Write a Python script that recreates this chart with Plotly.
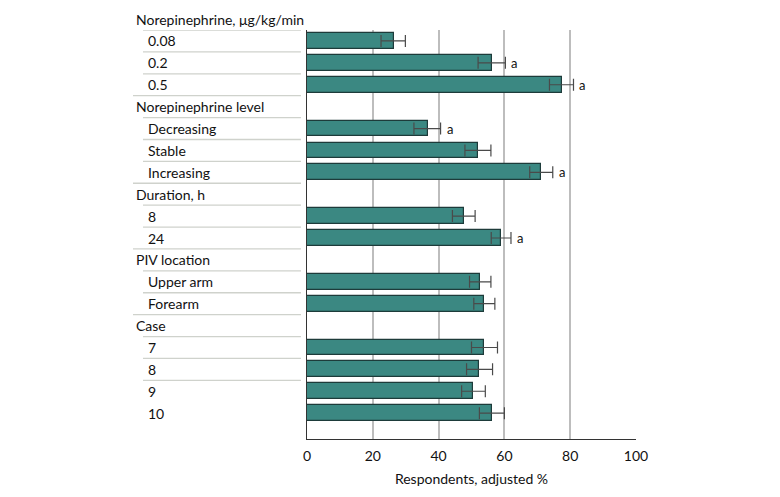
import plotly.graph_objects as go

# Rows (headers have no value)
row_labels = ["Norepinephrine, μg/kg/min", "0.08", "0.2", "0.5",
              "Norepinephrine level", "Decreasing", "Stable", "Increasing",
              "Duration, h", "8", "24",
              "PIV location", "Upper arm", "Forearm",
              "Case", "7", "8", "9", "10"]
is_header = [True, False, False, False,
             True, False, False, False,
             True, False, False,
             True, False, False,
             True, False, False, False, False]
values = [None, 26.3, 56.1, 77.4,
          None, 36.7, 52.0, 71.2,
          None, 47.7, 58.9,
          None, 52.7, 53.9,
          None, 53.9, 52.4, 50.6, 56.2]
ci_low = [None, 22.5, 52.0, 73.7,
          None, 32.5, 48.0, 67.7,
          None, 44.2, 56.0,
          None, 49.4, 50.7,
          None, 50.0, 48.5, 47.0, 52.4]
ci_high = [None, 29.9, 60.3, 81.0,
           None, 40.6, 55.9, 74.7,
           None, 51.1, 62.0,
           None, 55.9, 57.1,
           None, 57.9, 56.4, 54.2, 60.0]
significant = [False, False, True, True,
               False, True, False, True,
               False, False, True,
               False, False, False,
               False, False, False, False, False]
x_ticks = [0, 20, 40, 60, 80, 100]

W, H = 780, 497
ML, MR, MT, MB = 307, 144, 30, 56
PW = W - ML - MR
PH = H - MT - MB
Y_TOP, Y_BOT = 0.5, 19.18

def px_to_paper(px):
    return (px - ML) / PW

def row_to_paper(r):
    return (Y_BOT - r) / (Y_BOT - Y_TOP)

FONT = "Lato, sans-serif"
FS = 14
TXT = "#111111"

ys = list(range(len(row_labels)))
bar_y = [y for y, v in zip(ys, values) if v is not None]
bar_x = [v for v in values if v is not None]
err_plus = [h - v for v, h in zip(values, ci_high) if v is not None]
err_minus = [v - l for v, l in zip(values, ci_low) if v is not None]

fig = go.Figure()
fig.add_trace(go.Bar(
    x=bar_x, y=bar_y, orientation="h", width=0.72,
    marker=dict(color="#3b8882", line=dict(color="#1d3b3a", width=1.2)),
    error_x=dict(type="data", symmetric=False, array=err_plus, arrayminus=err_minus,
                 color="#4a4a4a", thickness=1.2, width=6),
    showlegend=False, hoverinfo="skip",
))

annotations = []
for y, lab, hd in zip(ys, row_labels, is_header):
    annotations.append(dict(
        x=px_to_paper(134 if hd else 146), xref="paper", y=row_to_paper(y), yref="paper",
        text=lab, showarrow=False, xanchor="left", yanchor="middle",
        font=dict(family=FONT, size=FS, color=TXT)))
for y, h, s in zip(ys, ci_high, significant):
    if s:
        annotations.append(dict(
            x=h + 1.2, xref="x", y=y, yref="y", text="a", showarrow=False,
            xanchor="left", yanchor="middle",
            font=dict(family=FONT, size=13, color=TXT)))

shapes = []
n = len(row_labels)
for k in range(n - 2):
    nxt_header = is_header[k + 1]
    x0 = 133 if nxt_header else 143
    shapes.append(dict(type="line", xref="paper", yref="y",
                       x0=px_to_paper(x0), x1=px_to_paper(301),
                       y0=k + 0.5, y1=k + 0.5,
                       line=dict(color="#cfd2cc", width=1.3)))

fig.update_layout(
    width=W, height=H,
    margin=dict(l=ML, r=MR, t=MT, b=MB, pad=0),
    paper_bgcolor="white", plot_bgcolor="white",
    bargap=0,
    annotations=annotations, shapes=shapes,
    xaxis=dict(range=[0, 100], tickvals=x_ticks, ticktext=[str(t) for t in x_ticks],
               showgrid=True, gridcolor="#bdbdbd", gridwidth=1.5,
               zeroline=False, showline=True, linecolor="#333333", linewidth=1.3,
               ticks="", ticklabelstandoff=4,
               tickfont=dict(family=FONT, size=FS, color=TXT),
               title=dict(text="Respondents, adjusted %", standoff=11,
                          font=dict(family=FONT, size=FS, color=TXT))),
    yaxis=dict(range=[Y_BOT, Y_TOP], showticklabels=False, showgrid=False,
               zeroline=False, showline=True, linecolor="#333333", linewidth=1.3,
               ticks=""),
)

fig.write_html("out.html", config={"displayModeBar": False})

# remove default page margin so the figure sits at the window origin
with open("out.html", "r", encoding="utf-8") as f:
    html = f.read()
html = html.replace("<body>", '<body style="margin:0;">', 1)
with open("out.html", "w", encoding="utf-8") as f:
    f.write(html)
